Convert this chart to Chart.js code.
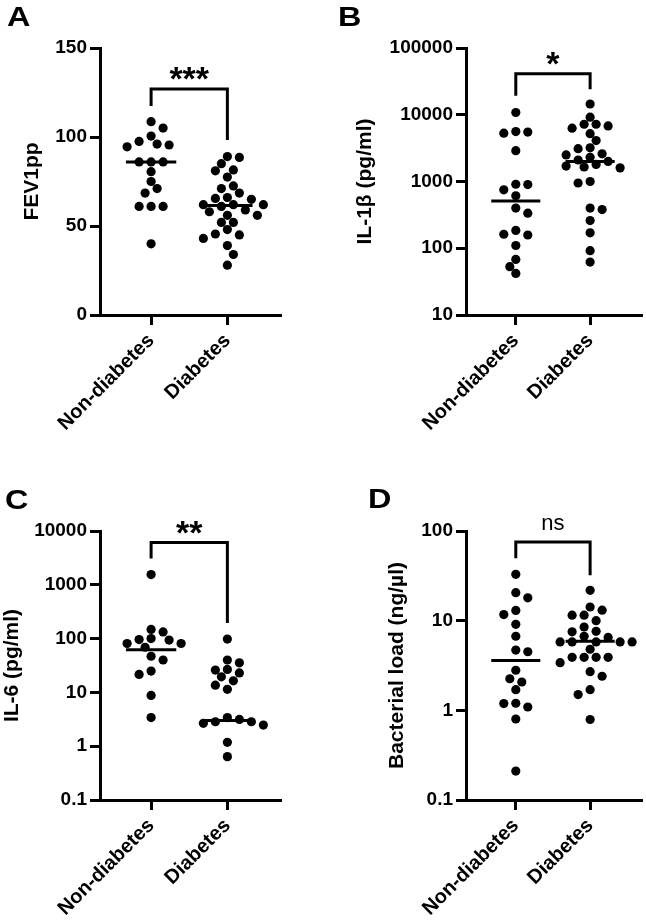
<!DOCTYPE html>
<html>
<head>
<meta charset="utf-8">
<script src="https://cdn.jsdelivr.net/npm/chart.js@4.4.1/dist/chart.umd.min.js"></script>
<style>
  body { margin: 0; background: #fff; }
  #wrap { position: relative; width: 646px; height: 921px; overflow: hidden; }
  canvas { position: absolute; }
  .letter {
    position: absolute;
    font: bold 27px "Liberation Sans", Arial, sans-serif;
    line-height: 1;
    color: #000;
    transform: scaleX(1.2);
    transform-origin: left top;
  }
</style>
</head>
<body>
<div id="wrap">
  <canvas id="panelA" width="323" height="440" style="left:0;top:0"></canvas>
  <canvas id="panelB" width="323" height="440" style="left:323px;top:0"></canvas>
  <canvas id="panelC" width="323" height="481" style="left:0;top:440px"></canvas>
  <canvas id="panelD" width="323" height="481" style="left:323px;top:440px"></canvas>
  <div class="letter" style="left:7px;top:4px">A</div>
  <div class="letter" style="left:338px;top:4px">B</div>
  <div class="letter" style="left:5px;top:487px">C</div>
  <div class="letter" style="left:368px;top:486px">D</div>
</div>
<script>
// Groups
const categories = ['Non-diabetes', 'Diabetes'];

// A - FEV1pp
const fevNon = [108.6, 105, 100.5, 97.5, 96, 95.5, 94.5, 86, 86, 86, 80.5, 75, 71, 68.5, 61, 61, 61, 40];
const fevDia = [89, 88.5, 85, 81, 81.5, 77.5, 72.5, 71, 68.5, 65.5, 66, 65, 62, 62, 61, 62, 59, 58, 56, 56,
  52, 52, 48, 45.5, 45, 43, 39, 34, 28];
const fevMedians = [86, 61.5];
const fevTicks = [0, 50, 100, 150];
const fevBracket = [127, 117.4, 98.3]; // top, left end, right end
const fevSig = '***';

// B - IL-1beta
const il1bNon = [10800, 5600, 5300, 5500, 2900, 910, 900, 750, 610, 400, 335, 162, 158, 185, 110, 68, 53, 42];
const il1bDia = [14500, 9200, 7200, 7200, 6800, 6300, 5200, 4100, 3200, 3100, 2600, 2500, 2300, 2100, 2000,
  1800, 1700, 1650, 1600, 1000, 950, 400, 380, 260, 170, 92, 62];
const il1bMedians = [510, 2000];
const il1bTicks = [10, 100, 1000, 10000, 100000];
const il1bBracket = [41000, 19200, 24200];
const il1bSig = '*';

// C - IL-6
const il6Non = [1550, 148, 133, 96, 81, 94, 100, 81, 69, 40, 47, 21.6, 24.9, 8.8, 3.4];
const il6Dia = [98, 40, 26.7, 26, 35.5, 23, 19.5, 16.4, 13.6, 11.4, 2.66, 3.4, 2.47, 2.85, 2.85, 3.15, 1.18, 0.64];
const il6Medians = [62, 3.0];
const il6Ticks = [0.1, 1, 10, 100, 1000, 10000];
const il6Bracket = [6100, 3080, 196];
const il6Sig = '**';

// D - Bacterial load
const bactNon = [32.9, 20.5, 18, 13, 11.7, 9.1, 6.7, 4.7, 4.5, 2.8, 2.25, 2.07, 1.7, 1.19, 1.2, 1.09, 0.8, 0.21];
const bactDia = [21.8, 14.2, 13.1, 11.5, 11.5, 10, 8.5, 7.6, 7.5, 6.7, 6.5, 5.8, 5.8, 5.8, 5.8, 5.8, 4.8,
  3.9, 3.9, 3.9, 3.9, 3.4, 2.7, 2.4, 1.7, 1.5, 0.79];
const bactMedians = [3.6, 5.9];
const bactTicks = [0.1, 1, 10, 100];
const bactBracket = [75.5, 49.6, 32];
const bactSig = 'ns';

const FONT = '"Liberation Sans", Arial, sans-serif';

// Median lines, bracket and significance label
const marks = {
  id: 'marks',
  afterDatasetsDraw(chart, args, opts) {
    const { ctx } = chart;
    const x = chart.scales.x;
    const y = chart.scales.y;
    ctx.save();
    ctx.strokeStyle = '#000';
    ctx.lineWidth = 3;
    opts.medians.forEach((m, g) => {
      const py = y.getPixelForValue(m);
      ctx.beginPath();
      ctx.moveTo(x.getPixelForValue(g - 0.33), py);
      ctx.lineTo(x.getPixelForValue(g + 0.33), py);
      ctx.stroke();
    });
    const [top, leftEnd, rightEnd] = opts.bracket;
    const x0 = x.getPixelForValue(0);
    const x1 = x.getPixelForValue(1);
    const yt = y.getPixelForValue(top);
    ctx.lineJoin = 'miter';
    ctx.beginPath();
    ctx.moveTo(x0, y.getPixelForValue(leftEnd));
    ctx.lineTo(x0, yt);
    ctx.lineTo(x1, yt);
    ctx.lineTo(x1, y.getPixelForValue(rightEnd));
    ctx.stroke();
    ctx.fillStyle = '#000';
    ctx.textAlign = 'center';
    ctx.textBaseline = 'alphabetic';
    if (opts.sig === 'ns') {
      ctx.font = '22px ' + FONT;
      ctx.fillText(opts.sig, (x0 + x1) / 2, yt - 12);
    } else {
      ctx.font = 'bold 34px ' + FONT;
      ctx.fillText(opts.sig, (x0 + x1) / 2, yt + 1);
    }
    ctx.restore();
  }
};

// Simple beeswarm: spread points sideways so the dots don't overlap
function swarm(pys) {
  const step = 6;
  const dist = 9;
  const order = pys.map((v, i) => i).sort((a, b) => pys[a] - pys[b]);
  const placed = [];
  const off = new Array(pys.length).fill(0);
  let flip = 1;
  order.forEach(i => {
    const py = pys[i];
    for (let k = 0; k < 60; k++) {
      const n = Math.ceil(k / 2) * (k % 2 ? 1 : -1) * flip;
      const px = n * step;
      const hit = placed.some(p => (p.x - px) ** 2 + (p.y - py) ** 2 < dist * dist);
      if (!hit) {
        off[i] = px;
        placed.push({ x: px, y: py });
        if (px !== 0) flip = px > 0 ? -1 : 1;
        break;
      }
    }
  });
  return off;
}

function makePanel(p) {
  const axisGrid = {
    display: true, drawOnChartArea: false, drawTicks: true,
    tickLength: 10, tickWidth: 3, tickColor: '#000', color: '#000', lineWidth: 3
  };
  const axisBorder = { display: true, width: 3, color: '#000' };
  const chart = new Chart(document.getElementById(p.id), {
    type: 'scatter',
    data: {
      datasets: [p.non, p.dia].map((vals, g) => ({
        data: vals.map(v => ({ x: g, y: v })),
        backgroundColor: '#000',
        borderWidth: 0,
        pointRadius: 4.6
      }))
    },
    options: {
      responsive: false,
      animation: false,
      devicePixelRatio: 1,
      events: [],
      layout: { padding: { left: p.padLeft, top: p.padTop, right: p.padRight, bottom: 0 } },
      plugins: {
        legend: { display: false },
        tooltip: { enabled: false },
        marks: { medians: p.medians, bracket: p.bracket, sig: p.sig }
      },
      scales: {
        x: {
          type: 'linear', min: -0.67, max: 1.69,
          afterBuildTicks: s => { s.ticks = [{ value: 0 }, { value: 1 }]; },
          afterFit: s => { s.height = p.xHeight; },
          ticks: {
            callback: v => categories[v],
            minRotation: 45, maxRotation: 45, padding: 4,
            color: '#000', font: { family: FONT, size: 20, weight: 'bold' }
          },
          grid: axisGrid,
          border: axisBorder
        },
        y: {
          type: p.type,
          min: p.ticks[0],
          max: p.ticks[p.ticks.length - 1],
          afterBuildTicks: s => { s.ticks = p.ticks.map(v => ({ value: v })); },
          afterFit: s => { s.width = p.yWidth; },
          ticks: {
            callback: v => String(v),
            padding: 3,
            color: '#000', font: { family: FONT, size: 19, weight: 'bold' }
          },
          title: {
            display: true, text: p.title, color: '#000', padding: { top: 0, bottom: 0 },
            font: { family: FONT, size: 21, weight: 'bold' }
          },
          grid: axisGrid,
          border: axisBorder
        }
      }
    },
    plugins: [marks]
  });

  // place the dots side by side using the real y pixels
  const ys = chart.scales.y;
  const xs = chart.scales.x;
  const unit = xs.getPixelForValue(1) - xs.getPixelForValue(0);
  [p.non, p.dia].forEach((vals, g) => {
    const off = swarm(vals.map(v => ys.getPixelForValue(v)));
    chart.data.datasets[g].data = vals.map((v, i) => ({ x: g + off[i] / unit, y: v }));
  });
  chart.update('none');
  return chart;
}

makePanel({
  id: 'panelA', type: 'linear', title: 'FEV1pp',
  non: fevNon, dia: fevDia, medians: fevMedians, ticks: fevTicks, bracket: fevBracket, sig: fevSig,
  padLeft: 20, padTop: 48, padRight: 43, yWidth: 80, xHeight: 125
});
makePanel({
  id: 'panelB', type: 'logarithmic', title: 'IL-1β (pg/ml)',
  non: il1bNon, dia: il1bDia, medians: il1bMedians, ticks: il1bTicks, bracket: il1bBracket, sig: il1bSig,
  padLeft: 30, padTop: 48, padRight: 0, yWidth: 113, xHeight: 125
});
makePanel({
  id: 'panelC', type: 'logarithmic', title: 'IL-6 (pg/ml)',
  non: il6Non, dia: il6Dia, medians: il6Medians, ticks: il6Ticks, bracket: il6Bracket, sig: il6Sig,
  padLeft: 0, padTop: 91, padRight: 43, yWidth: 100, xHeight: 121
});
makePanel({
  id: 'panelD', type: 'logarithmic', title: 'Bacterial load (ng/µl)',
  non: bactNon, dia: bactDia, medians: bactMedians, ticks: bactTicks, bracket: bactBracket, sig: bactSig,
  padLeft: 62, padTop: 91, padRight: 0, yWidth: 81, xHeight: 121
});
</script>
</body>
</html>
